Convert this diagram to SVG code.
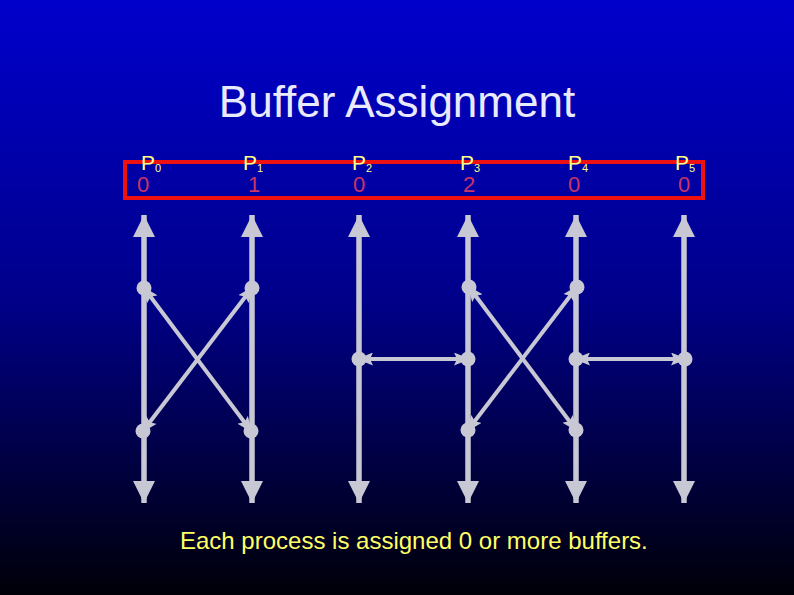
<svg xmlns="http://www.w3.org/2000/svg" width="794" height="595" viewBox="0 0 794 595">
  <defs>
    <linearGradient id="bg" x1="0" y1="0" x2="0" y2="1">
      <stop offset="0" stop-color="#0000cc"/>
      <stop offset="0.5" stop-color="#00008a"/>
      <stop offset="1" stop-color="#000008"/>
    </linearGradient>
    <marker id="bigArrow" viewBox="0 0 22 22" markerWidth="22" markerHeight="22" refX="22" refY="11" orient="auto-start-reverse" markerUnits="userSpaceOnUse">
      <path d="M0,0 L22,11 L0,22 Z" fill="#c8c8d4"/>
    </marker>
    <marker id="msgArrow" viewBox="0 0 16 13" markerWidth="16" markerHeight="13" refX="14" refY="6.5" orient="auto-start-reverse" markerUnits="userSpaceOnUse">
      <path d="M0,0 L16,6.5 L0,13 L3,6.5 Z" fill="#c8c8d4"/>
    </marker>
  </defs>
  <style>
    .timeline { stroke: #c8c8d4; stroke-width: 5.5; fill: none; }
    .msg { stroke: #c8c8d4; stroke-width: 4; fill: none; }
    .dot { fill: #c8c8d4; }
    .plabel { font-family: "Liberation Sans", Arial, sans-serif; font-size: 21px; fill: #ffff88; }
    .sub { font-size: 11px; }
    .count { font-family: "Liberation Sans", Arial, sans-serif; font-size: 22px; fill: #cc3366; }
    .title { font-family: "Liberation Sans", Arial, sans-serif; font-size: 44px; fill: #eaeaff; }
    .note { font-family: "Liberation Sans", Arial, sans-serif; font-size: 24px; fill: #ffff66; }
  </style>
  <rect x="0" y="0" width="794" height="595" fill="url(#bg)"/>
  <text class="title" x="397" y="117" text-anchor="middle">Buffer Assignment</text>

  <rect x="125" y="162" width="578" height="36" fill="none" stroke="#ee1111" stroke-width="4"/>

  <g id="connectors">
    <line class="msg" x1="144" y1="288" x2="251" y2="431" marker-start="url(#msgArrow)" marker-end="url(#msgArrow)"/>
    <line class="msg" x1="252" y1="288" x2="143" y2="431" marker-start="url(#msgArrow)" marker-end="url(#msgArrow)"/>
    <line class="msg" x1="359" y1="359" x2="468" y2="359" marker-start="url(#msgArrow)" marker-end="url(#msgArrow)"/>
    <line class="msg" x1="469" y1="287" x2="576" y2="430" marker-start="url(#msgArrow)" marker-end="url(#msgArrow)"/>
    <line class="msg" x1="577" y1="287" x2="468" y2="430" marker-start="url(#msgArrow)" marker-end="url(#msgArrow)"/>
    <line class="msg" x1="576" y1="359" x2="685" y2="359" marker-start="url(#msgArrow)" marker-end="url(#msgArrow)"/>
  </g>

  <g id="P0">
    <text class="plabel" x="141" y="170">P<tspan class="sub" dy="2">0</tspan></text>
    <text class="count" x="137" y="192">0</text>
    <line class="timeline" x1="144" y1="215" x2="144" y2="503" marker-start="url(#bigArrow)" marker-end="url(#bigArrow)"/>
    <circle class="dot" cx="144" cy="288" r="7.5"/>
    <circle class="dot" cx="143" cy="431" r="7.5"/>
  </g>
  <g id="P1">
    <text class="plabel" x="243" y="170">P<tspan class="sub" dy="2">1</tspan></text>
    <text class="count" x="248" y="192">1</text>
    <line class="timeline" x1="252" y1="215" x2="252" y2="503" marker-start="url(#bigArrow)" marker-end="url(#bigArrow)"/>
    <circle class="dot" cx="252" cy="288" r="7.5"/>
    <circle class="dot" cx="251" cy="431" r="7.5"/>
  </g>
  <g id="P2">
    <text class="plabel" x="352" y="170">P<tspan class="sub" dy="2">2</tspan></text>
    <text class="count" x="353" y="192">0</text>
    <line class="timeline" x1="359" y1="215" x2="359" y2="503" marker-start="url(#bigArrow)" marker-end="url(#bigArrow)"/>
    <circle class="dot" cx="359" cy="359" r="7.5"/>
  </g>
  <g id="P3">
    <text class="plabel" x="460" y="170">P<tspan class="sub" dy="2">3</tspan></text>
    <text class="count" x="463" y="192">2</text>
    <line class="timeline" x1="468" y1="215" x2="468" y2="503" marker-start="url(#bigArrow)" marker-end="url(#bigArrow)"/>
    <circle class="dot" cx="469" cy="287" r="7.5"/>
    <circle class="dot" cx="468" cy="359" r="7.5"/>
    <circle class="dot" cx="468" cy="430" r="7.5"/>
  </g>
  <g id="P4">
    <text class="plabel" x="568" y="170">P<tspan class="sub" dy="2">4</tspan></text>
    <text class="count" x="568" y="192">0</text>
    <line class="timeline" x1="576" y1="215" x2="576" y2="503" marker-start="url(#bigArrow)" marker-end="url(#bigArrow)"/>
    <circle class="dot" cx="577" cy="287" r="7.5"/>
    <circle class="dot" cx="576" cy="359" r="7.5"/>
    <circle class="dot" cx="576" cy="430" r="7.5"/>
  </g>
  <g id="P5">
    <text class="plabel" x="675" y="170">P<tspan class="sub" dy="2">5</tspan></text>
    <text class="count" x="678" y="192">0</text>
    <line class="timeline" x1="684" y1="215" x2="684" y2="503" marker-start="url(#bigArrow)" marker-end="url(#bigArrow)"/>
    <circle class="dot" cx="685" cy="359" r="7.5"/>
  </g>

  <text class="note" x="180" y="549">Each process is assigned 0 or more buffers.</text>
</svg>
